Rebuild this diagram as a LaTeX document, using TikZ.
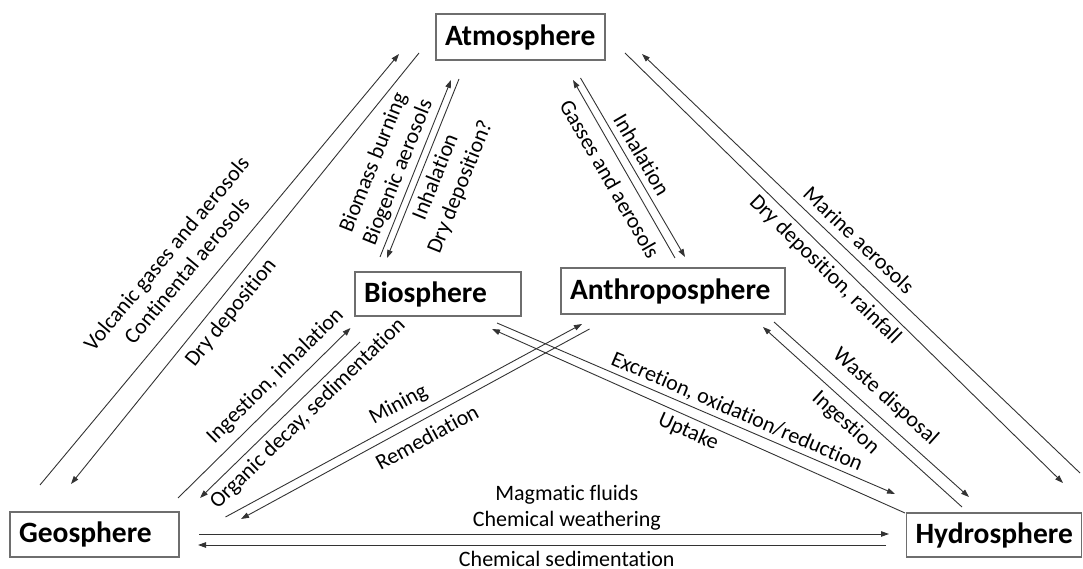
\documentclass[tikz,border=0pt]{standalone}
\usepackage{fontspec}
\setmainfont{Carlito}[Ligatures=NoCommon]
\usetikzlibrary{arrows.meta}
\definecolor{boxgray}{HTML}{6E6E6E}
\definecolor{linegray}{HTML}{333333}
\begin{document}
\begin{tikzpicture}[x=1pt,y=1pt,
  sphere/.style={draw=boxgray, line width=1.2pt, font=\fontsize{29.5}{32}\selectfont\bfseries,
    align=left, inner xsep=9pt, inner ysep=0pt},
  flow/.style={draw=linegray, line width=0.9pt, -{Triangle[length=8pt,width=5.5pt]}},
  lab/.style={font=\fontsize{22}{26.5}\selectfont, sloped, inner sep=0pt, align=center}]
\useasboundingbox (0,0) rectangle (1083,569);

% spheres
\node[sphere, text width=151pt, minimum height=46pt] (atm) at (520.5,532) {Atmosphere};
\node[sphere, text width=148pt, minimum height=44pt] (bio) at (438,275) {Biosphere};
\node[sphere, text width=206pt, minimum height=46pt] (ant) at (673,278) {Anthroposphere};
\node[sphere, text width=151pt, minimum height=45pt] (geo) at (94.5,34.5) {Geosphere};
\node[sphere, text width=157pt, minimum height=44pt] (hyd) at (994,34) {Hydrosphere};

% Geosphere <-> Atmosphere
\coordinate (v1s) at (40,84);   \coordinate (v1e) at (399,515);
\draw[flow] (v1s) -- node[lab, pos=0.461, above=37.9pt, anchor=center] {Volcanic gases and aerosols\\Continental aerosols} (v1e);
\coordinate (d1s) at (419,516); \coordinate (d1e) at (71,85);
\draw[flow] (d1s) -- node[lab, pos=0.578, below=17.1pt, anchor=center] {Dry deposition} (d1e);

% Biosphere <-> Atmosphere
\coordinate (b1s) at (380,312); \coordinate (b1e) at (451,489);
\draw[flow] (b1s) -- node[lab, pos=0.446, above=27.6pt, anchor=center] {Biomass burning\\Biogenic aerosols} (b1e);
\coordinate (a2s) at (459,490); \coordinate (a2e) at (387,311);
\draw[flow] (a2s) -- node[lab, pos=0.516, below=28.5pt, anchor=center] {Inhalation\\Dry deposition?} (a2e);

% Anthroposphere <-> Atmosphere
\coordinate (g1s) at (675,311); \coordinate (g1e) at (573,489);
\draw[flow] (g1s) -- node[lab, pos=0.492, below=17.1pt, anchor=center] {Gasses and aerosols} (g1e);
\coordinate (i2s) at (580.5,491); \coordinate (i2e) at (685,312);
\draw[flow] (i2s) -- node[lab, pos=0.470, above=14.3pt, anchor=center] {Inhalation} (i2e);

% Atmosphere <-> Hydrosphere
\coordinate (h1s) at (625,516); \coordinate (h1e) at (1063,86);
\draw[flow] (h1s) -- node[lab, pos=0.480, below=14.7pt, anchor=center] {Dry deposition, rainfall} (h1e);
\coordinate (m1s) at (1080,96); \coordinate (m1e) at (642,515);
\draw[flow] (m1s) -- node[lab, pos=0.529, above=15.6pt, anchor=center] {Marine aerosols} (m1e);

% Geosphere <-> Biosphere
\coordinate (n1s) at (178,71);  \coordinate (n1e) at (350.5,241);
\draw[flow] (n1s) -- node[lab, pos=0.640, above=18.5pt, anchor=center] {Ingestion, inhalation} (n1e);
\coordinate (o1s) at (360,227); \coordinate (o1e) at (200,71);
\draw[flow] (o1s) -- node[lab, pos=0.392, below=15.2pt, anchor=center] {Organic decay, sedimentation} (o1e);

% Geosphere <-> Anthroposphere
\coordinate (mi1s) at (225.5,52); \coordinate (mi1e) at (582,245);
\draw[flow] (mi1s) -- node[lab, pos=0.507, above=16.1pt, anchor=center] {Mining} (mi1e);
\coordinate (r1s) at (589.5,240); \coordinate (r1e) at (241,50);
\draw[flow] (r1s) -- node[lab, pos=0.490, below=17pt, anchor=center] {Remediation} (r1e);

% Biosphere <-> Hydrosphere
\coordinate (e1s) at (497,246); \coordinate (e1e) at (895,75);
\draw[flow] (e1s) -- node[lab, pos=0.590, above=13pt, anchor=center] {Excretion, oxidation/reduction} (e1e);
\coordinate (u1s) at (905,56);  \coordinate (u1e) at (492,240);
\draw[flow] (u1s) -- node[lab, pos=0.511, below=14.3pt, anchor=center] {Uptake} (u1e);

% Anthroposphere <-> Hydrosphere
\coordinate (ig1s) at (962,62); \coordinate (ig1e) at (763,242);
\draw[flow] (ig1s) -- node[lab, pos=0.532, below=15.9pt, anchor=center] {Ingestion} (ig1e);
\coordinate (w1s) at (774,247); \coordinate (w1e) at (969,72);
\draw[flow] (w1s) -- node[lab, pos=0.507, above=18.8pt, anchor=center] {Waste disposal} (w1e);

% Geosphere <-> Hydrosphere
\coordinate (hw1s) at (199,35); \coordinate (hw1e) at (889,35);
\draw[flow] (hw1s) -- node[lab, pos=0.533, above=26pt, anchor=center] {Magmatic fluids\\Chemical weathering} (hw1e);
\coordinate (hs1s) at (886,24); \coordinate (hs1e) at (198,24);
\draw[flow] (hs1s) -- node[lab, pos=0.464, below=14pt, anchor=center] {Chemical sedimentation} (hs1e);
\end{tikzpicture}
\end{document}
